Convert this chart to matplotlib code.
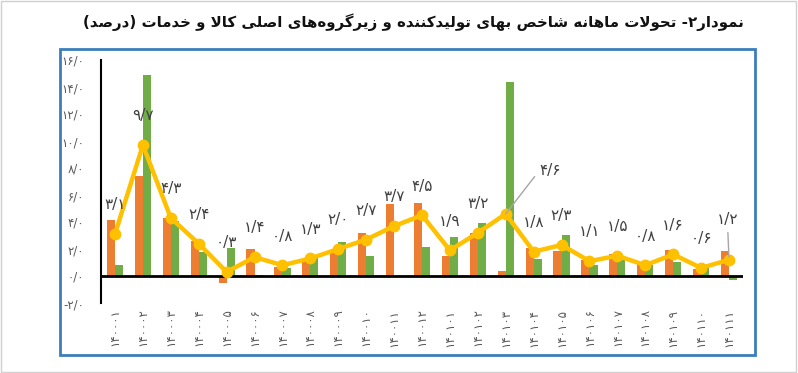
import matplotlib
matplotlib.use("Agg")
import matplotlib.pyplot as plt
from matplotlib.patches import Rectangle

# ---------------- data ----------------
months = ['۱۴۰۰۰۱', '۱۴۰۰۰۲', '۱۴۰۰۰۳', '۱۴۰۰۰۴', '۱۴۰۰۰۵', '۱۴۰۰۰۶',
          '۱۴۰۰۰۷', '۱۴۰۰۰۸', '۱۴۰۰۰۹', '۱۴۰۰۱۰', '۱۴۰۰۱۱', '۱۴۰۰۱۲',
          '۱۴۰۱۰۱', '۱۴۰۱۰۲', '۱۴۰۱۰۳', '۱۴۰۱۰۴', '۱۴۰۱۰۵', '۱۴۰۱۰۶',
          '۱۴۰۱۰۷', '۱۴۰۱۰۸', '۱۴۰۱۰۹', '۱۴۰۱۱۰', '۱۴۰۱۱۱']
ppi_total = [3.1, 9.7, 4.3, 2.4, 0.3, 1.4, 0.8, 1.3, 2.0, 2.7, 3.7, 4.5,
             1.9, 3.2, 4.6, 1.8, 2.3, 1.1, 1.5, 0.8, 1.6, 0.6, 1.2]
goods = [4.15, 7.4, 4.3, 2.6, -0.5, 2.0, 0.7, 1.1, 1.7, 3.2, 5.35, 5.4,
         1.45, 3.15, 0.4, 2.05, 1.85, 1.2, 1.6, 0.9, 1.9, 0.5, 1.85]
services = [0.8, 14.9, 4.1, 1.75, 2.1, 0.1, 0.6, 1.4, 2.5, 1.5, -0.1, 2.15,
            2.9, 3.95, 14.4, 1.25, 3.05, 0.8, 1.15, 0.85, 1.05, 0.65, -0.3]
yticks = [-2, 0, 2, 4, 6, 8, 10, 12, 14, 16]
title_text = "نمودار۲- تحولات ماهانه شاخص بهای تولیدکننده و زیرگروه\u200cهای اصلی کالا و خدمات (درصد)"

# ------------- Persian shaping helpers -------------
FORMS = {
    'ا': ('\uFE8D', '\uFE8E', None, None), 'آ': ('\uFE81', '\uFE82', None, None),
    'ب': ('\uFE8F', '\uFE90', '\uFE91', '\uFE92'), 'پ': ('\uFB56', '\uFB57', '\uFB58', '\uFB59'),
    'ت': ('\uFE95', '\uFE96', '\uFE97', '\uFE98'), 'ث': ('\uFE99', '\uFE9A', '\uFE9B', '\uFE9C'),
    'ج': ('\uFE9D', '\uFE9E', '\uFE9F', '\uFEA0'), 'چ': ('\uFB7A', '\uFB7B', '\uFB7C', '\uFB7D'),
    'ح': ('\uFEA1', '\uFEA2', '\uFEA3', '\uFEA4'), 'خ': ('\uFEA5', '\uFEA6', '\uFEA7', '\uFEA8'),
    'د': ('\uFEA9', '\uFEAA', None, None), 'ذ': ('\uFEAB', '\uFEAC', None, None),
    'ر': ('\uFEAD', '\uFEAE', None, None), 'ز': ('\uFEAF', '\uFEB0', None, None),
    'ژ': ('\uFB8A', '\uFB8B', None, None),
    'س': ('\uFEB1', '\uFEB2', '\uFEB3', '\uFEB4'), 'ش': ('\uFEB5', '\uFEB6', '\uFEB7', '\uFEB8'),
    'ص': ('\uFEB9', '\uFEBA', '\uFEBB', '\uFEBC'), 'ض': ('\uFEBD', '\uFEBE', '\uFEBF', '\uFEC0'),
    'ط': ('\uFEC1', '\uFEC2', '\uFEC3', '\uFEC4'), 'ظ': ('\uFEC5', '\uFEC6', '\uFEC7', '\uFEC8'),
    'ع': ('\uFEC9', '\uFECA', '\uFECB', '\uFECC'), 'غ': ('\uFECD', '\uFECE', '\uFECF', '\uFED0'),
    'ف': ('\uFED1', '\uFED2', '\uFED3', '\uFED4'), 'ق': ('\uFED5', '\uFED6', '\uFED7', '\uFED8'),
    'ک': ('\uFB8E', '\uFB8F', '\uFB90', '\uFB91'), 'گ': ('\uFB92', '\uFB93', '\uFB94', '\uFB95'),
    'ل': ('\uFEDD', '\uFEDE', '\uFEDF', '\uFEE0'), 'م': ('\uFEE1', '\uFEE2', '\uFEE3', '\uFEE4'),
    'ن': ('\uFEE5', '\uFEE6', '\uFEE7', '\uFEE8'), 'ه': ('\uFEE9', '\uFEEA', '\uFEEB', '\uFEEC'),
    'و': ('\uFEED', '\uFEEE', None, None), 'ی': ('\uFBFC', '\uFBFD', '\uFBFE', '\uFBFF'),
}
DUAL = {k for k, v in FORMS.items() if v[2] is not None}


def shape_rtl(s):
    out = []
    i, n = 0, len(s)
    while i < n:
        c = s[i]
        prev = s[i - 1] if i > 0 else None
        prev_join = prev in DUAL
        if c not in FORMS:
            if c != '\u200c':
                out.append(c)
            i += 1
            continue
        if c == 'ل' and i + 1 < n and s[i + 1] in ('ا', 'آ'):
            if s[i + 1] == 'ا':
                out.append('\uFEFC' if prev_join else '\uFEFB')
            else:
                out.append('\uFEF6' if prev_join else '\uFEF5')
            i += 2
            continue
        nxt = s[i + 1] if i + 1 < n else None
        next_join = (c in DUAL) and (nxt in FORMS)
        isol, fin, ini, med = FORMS[c]
        if prev_join and next_join:
            out.append(med)
        elif prev_join:
            out.append(fin)
        elif next_join:
            out.append(ini)
        else:
            out.append(isol)
        i += 1
    vis = ''.join(reversed(out))
    vis = vis.translate(str.maketrans({'(': ')', ')': '('}))
    return vis


FA_DIGITS = str.maketrans('0123456789.', '۰۱۲۳۴۵۶۷۸۹/')


def fa(v):
    return f"{v:.1f}".translate(FA_DIGITS)


# ---------------- figure ----------------
W, H = 798, 373
fig = plt.figure(figsize=(W / 100, H / 100), dpi=100)
plt.rcParams['font.family'] = ['DejaVu Sans']

# outer light border
fig.patches.append(Rectangle((0.001, 0.002), 0.997, 0.995, transform=fig.transFigure,
                             fill=False, edgecolor='#d0d0d0', linewidth=1.0))
# blue chart frame
fig.patches.append(Rectangle((60 / W, 1 - 355 / H), (755 - 60) / W, (355 - 49) / H,
                             transform=fig.transFigure, fill=False,
                             edgecolor='#3b7dbd', linewidth=2.0))

title = fig.text(413 / W, 1 - 22 / H, shape_rtl(title_text), ha='center', va='center',
                 fontsize=14, fontweight='bold', color='#111111')
# fit the title to the reference width (~663 px)
renderer = fig.canvas.get_renderer()
tw = title.get_window_extent(renderer).width
title.set_fontsize(14 * 663 / tw)

ax = fig.add_axes([101 / W, 1 - 303 / H, (743 - 101) / W, (303 - 60) / H])
x = list(range(len(months)))
bw = 0.29
ax.bar([xi - bw / 2 for xi in x], goods, width=bw, color='#ED7D31', zorder=2)
ax.bar([xi + bw / 2 for xi in x], services, width=bw, color='#70AD47', zorder=2)
ax.axhline(0, color='black', linewidth=2, zorder=3)
ax.plot(x, ppi_total, color='#FFC000', linewidth=3.2, marker='o', markersize=7.5,
        zorder=4, solid_capstyle='round')

for i, v in enumerate(ppi_total):
    if i == 14:
        ax.annotate(fa(v), xy=(i, v), xytext=(24, 31), textcoords='offset points',
                    ha='left', va='center', fontsize=11, color='#404040',
                    arrowprops=dict(arrowstyle='-', color='#a6a6a6', lw=1,
                                    shrinkA=2, shrinkB=0, relpos=(0, 0.5)),
                    zorder=5)
    elif i == len(ppi_total) - 1:
        ax.annotate(fa(v), xy=(i, v), xytext=(-1, 29), textcoords='offset points',
                    ha='center', va='center', fontsize=11, color='#404040',
                    arrowprops=dict(arrowstyle='-', color='#a6a6a6', lw=1,
                                    shrinkA=2, shrinkB=2, relpos=(0.5, 0)),
                    zorder=5)
    else:
        ax.annotate(fa(v), xy=(i, v), xytext=(0, 21), textcoords='offset points',
                    ha='center', va='center', fontsize=11, color='#404040', zorder=5)

ax.set_xlim(-0.5, len(months) - 0.5)
ax.set_ylim(-2, 16)
ax.set_yticks(yticks)
ax.set_yticklabels([fa(t) for t in yticks], fontsize=8.5, color='#595959')
ax.set_xticks(x)
ax.set_xticklabels(months, rotation=90, fontsize=8.5, color='#595959')
ax.tick_params(axis='y', length=0, pad=12)
ax.tick_params(axis='x', length=0, pad=4)
for s in ('top', 'right', 'bottom'):
    ax.spines[s].set_visible(False)
ax.spines['left'].set_color('black')
ax.spines['left'].set_linewidth(1.5)
ax.set_facecolor('none')

fig.savefig('out.png', dpi=100)
